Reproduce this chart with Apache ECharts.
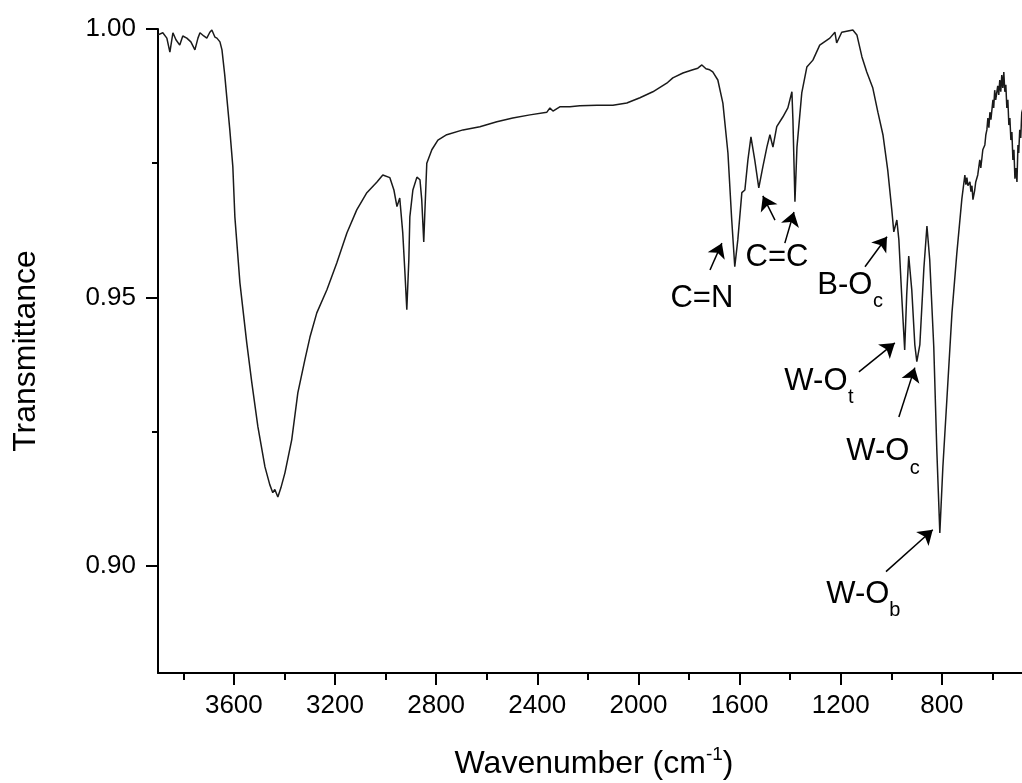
<!DOCTYPE html>
<html>
<head>
<meta charset="utf-8">
<script src="https://cdn.jsdelivr.net/npm/echarts@6/dist/echarts.min.js"></script>
<style>html,body{margin:0;padding:0;background:#fff}#c{width:1022px;height:783px}</style>
</head>
<body>
<div id="c"></div>
<script>
// FTIR spectrum: wavenumber (cm-1) and transmittance
const wavenumber = [3900,3893,3881,3865,3853,3841,3829,3814,3802,3786,3770,3754,3742,3734,3719,3707,3695,3687,3675,3667,3655,3647,3636,3628,3616,3604,3596,3576,3549,3529,3505,3477,3458,3446,3438,3426,3414,3398,3371,3347,3319,3299,3272,3232,3193,3153,3114,3074,3034,3011,2983,2967,2955,2944,2932,2924,2916,2908,2904,2892,2876,2864,2857,2849,2845,2837,2817,2793,2758,2694,2627,2560,2497,2429,2362,2350,2338,2311,2271,2232,2164,2101,2046,1994,1943,1888,1864,1824,1785,1765,1749,1733,1718,1706,1686,1666,1646,1631,1619,1607,1591,1579,1567,1555,1540,1524,1508,1492,1480,1468,1453,1429,1409,1393,1389,1381,1373,1354,1334,1310,1283,1243,1223,1216,1196,1152,1136,1116,1097,1073,1053,1033,1014,998,990,978,970,959,947,939,931,919,907,899,887,871,859,848,832,820,808,796,780,760,741,721,709,705,701,697,689,685,681,677,670,666,658,650,646,638,630,626,622,618,614,610,606,598,595,591,587,579,575,571,567,563,559,555,551,547,543,539,535,531,527,523,519,515,511,507,503,499,496,492,488,484,476];
const transmittance = [0.9989,0.9989,0.9993,0.9983,0.9957,0.9993,0.9980,0.9970,0.9987,0.9983,0.9976,0.9961,0.9983,0.9993,0.9987,0.9983,0.9994,0.9998,0.9985,0.9983,0.9976,0.9961,0.9914,0.9873,0.9812,0.9743,0.9650,0.9527,0.9415,0.9341,0.9259,0.9184,0.9151,0.9136,0.9142,0.9128,0.9145,0.9173,0.9235,0.9322,0.9384,0.9426,0.9471,0.9514,0.9564,0.9620,0.9663,0.9695,0.9715,0.9728,0.9723,0.9700,0.9669,0.9685,0.9620,0.9551,0.9477,0.9570,0.9650,0.9700,0.9724,0.9719,0.9682,0.9603,0.9654,0.9750,0.9775,0.9793,0.9803,0.9812,0.9818,0.9827,0.9834,0.9840,0.9845,0.9853,0.9847,0.9855,0.9855,0.9857,0.9858,0.9858,0.9862,0.9872,0.9883,0.9899,0.9909,0.9918,0.9924,0.9927,0.9933,0.9926,0.9924,0.9920,0.9905,0.9862,0.9769,0.9644,0.9557,0.9607,0.9695,0.9700,0.9756,0.9799,0.9756,0.9704,0.9743,0.9780,0.9803,0.9780,0.9818,0.9836,0.9853,0.9883,0.9831,0.9678,0.9780,0.9881,0.9929,0.9942,0.9970,0.9983,0.9994,0.9974,0.9994,0.9998,0.9989,0.9948,0.9920,0.9890,0.9845,0.9803,0.9737,0.9663,0.9622,0.9644,0.9607,0.9505,0.9402,0.9505,0.9577,0.9514,0.9412,0.9380,0.9412,0.9555,0.9633,0.9570,0.9408,0.9216,0.9061,0.9184,0.9311,0.9471,0.9581,0.9683,0.9728,0.9710,0.9723,0.9708,0.9715,0.9697,0.9708,0.9682,0.9700,0.9715,0.9728,0.9756,0.9741,0.9775,0.9784,0.9803,0.9812,0.9834,0.9816,0.9845,0.9831,0.9868,0.9853,0.9886,0.9868,0.9894,0.9877,0.9905,0.9883,0.9914,0.9890,0.9920,0.9883,0.9896,0.9853,0.9868,0.9821,0.9834,0.9793,0.9808,0.9756,0.9775,0.9721,0.9741,0.9715,0.9784,0.9769,0.9812,0.9797,0.9844,0.9858];

// tick values
const xMajorTicks = [800, 1200, 1600, 2000, 2400, 2800, 3200, 3600];
const xMinorTicks = [600, 1000, 1400, 1800, 2200, 2600, 3000, 3400, 3800];
const yMajorTicks = [0.90, 0.95, 1.00];
const yMinorTicks = [0.925, 0.975];

// annotation labels (data coordinates)
const annoText = ['C=N', 'C=C', 'B-O', 'W-O', 'W-O', 'W-O'];
const annoWn   = [1749, 1452, 1184, 1298, 1053, 1132];
const annoT    = [0.9497, 0.9574, 0.9523, 0.9343, 0.9212, 0.8946];
const subText  = ['c', 't', 'c', 'b'];
const subWn    = [1053, 1160, 907, 986];
const subT     = [0.9492, 0.9313, 0.9181, 0.8916];
// arrows: tail -> head
const arrowFromWn = [1717, 1460, 1421, 1104, 1128, 970, 1021];
const arrowFromT  = [0.9551, 0.9644, 0.9601, 0.9557, 0.9361, 0.9277, 0.8989];
const arrowToWn   = [1670, 1508, 1385, 1017, 986, 907, 836];
const arrowToT    = [0.9601, 0.9689, 0.9659, 0.9613, 0.9415, 0.9369, 0.9067];

const FONT = '"Liberation Sans", Arial, sans-serif';
const INK = '#000';

const spectrum = wavenumber.map((w, i) => [w, transmittance[i]]);
const arrows = arrowFromWn.map((w, i) => [
  { coord: [w, arrowFromT[i]] },
  { coord: [arrowToWn[i], arrowToT[i]] }
]);
const labelPoints = annoText.map((t, i) => ({
  name: t, coord: [annoWn[i], annoT[i]],
  label: { fontSize: 31 }
})).concat(subText.map((t, i) => ({
  name: t, coord: [subWn[i], subT[i]],
  label: { fontSize: 20 }
})));

const chart = echarts.init(document.getElementById('c'), null, { renderer: 'canvas' });
chart.setOption({
  animation: false,
  backgroundColor: '#fff',
  grid: { left: 158, top: 29, right: -21, bottom: 110, containLabel: false, outerBoundsMode: 'none' },
  xAxis: [{
    type: 'value', inverse: true, min: 400, max: 3900, interval: 400,
    name: 'Wavenumber (cm{sup|-1})',
    nameLocation: 'middle', nameGap: 72,
    nameTextStyle: {
      fontFamily: FONT, fontSize: 32, color: INK, padding: [0, 13, 0, 0],
      rich: { sup: { fontFamily: FONT, fontSize: 19, color: INK, verticalAlign: 'top', padding: [0, 0, 20, 0] } }
    },
    axisLine: { show: true, lineStyle: { color: INK, width: 2 } },
    axisTick: { show: true, length: 12, customValues: xMajorTicks, lineStyle: { color: INK, width: 2 } },
    axisLabel: { fontFamily: FONT, fontSize: 26, color: INK, margin: 20, customValues: xMajorTicks, formatter: v => String(v) },
    splitLine: { show: false }
  }, {
    type: 'value', inverse: true, min: 400, max: 3900, position: 'bottom', offset: 0,
    axisLine: { show: false },
    axisTick: { show: true, length: 7, customValues: xMinorTicks, lineStyle: { color: INK, width: 2 } },
    axisLabel: { show: false },
    splitLine: { show: false }
  }],
  yAxis: [{
    type: 'value', min: 0.88, max: 1.0,
    name: 'Transmittance', nameLocation: 'middle', nameGap: 116,
    nameTextStyle: { fontFamily: FONT, fontSize: 32, color: INK },
    axisLine: { show: true, lineStyle: { color: INK, width: 2 } },
    axisTick: { show: true, length: 12, customValues: yMajorTicks, lineStyle: { color: INK, width: 2 } },
    axisLabel: { customValues: yMajorTicks, formatter: v => v.toFixed(2), fontFamily: FONT, fontSize: 26, color: INK, margin: 22 },
    splitLine: { show: false }
  }, {
    type: 'value', min: 0.88, max: 1.0, position: 'left', offset: 0,
    axisLine: { show: false },
    axisTick: { show: true, length: 6, customValues: yMinorTicks, lineStyle: { color: INK, width: 2 } },
    axisLabel: { show: false },
    splitLine: { show: false }
  }],
  series: [{
    type: 'line', data: spectrum, showSymbol: false, symbol: 'none',
    xAxisIndex: 0, yAxisIndex: 0,
    lineStyle: { color: '#1a1a1a', width: 1.5 }, clip: true,
    markLine: {
      silent: true, symbol: ['none', 'arrow'], symbolSize: 14,
      lineStyle: { color: INK, width: 1.5, type: 'solid' },
      itemStyle: { color: INK },
      label: { show: false }, data: arrows
    },
    markPoint: {
      silent: true, symbol: 'circle', symbolSize: 0,
      itemStyle: { color: 'rgba(0,0,0,0)' },
      label: { show: true, position: 'inside', formatter: p => p.name, fontFamily: FONT, color: INK },
      data: labelPoints
    }
  }]
});
</script>
</body>
</html>
